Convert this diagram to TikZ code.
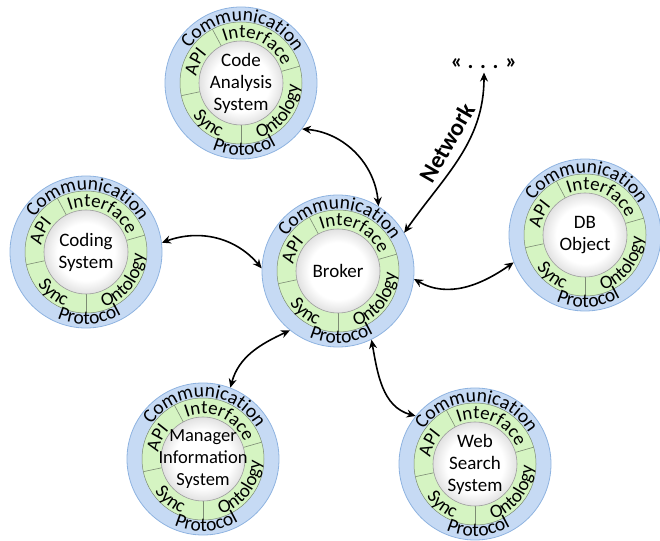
\documentclass[tikz,border=0pt]{standalone}
\usepackage{fontspec}
\setmainfont{Carlito}
\usepackage{tikz}
\usetikzlibrary{arrows.meta,decorations.text}
\definecolor{ringblue}{HTML}{C6DAF4}
\definecolor{ringedge}{HTML}{8EB3E0}
\definecolor{ringgreen}{HTML}{D5F4C2}
\definecolor{greenedge}{HTML}{7D8C74}
\definecolor{coreedge}{HTML}{9C9C9C}
\pgfdeclareradialshading{coreshade}{\pgfpoint{0bp}{0bp}}{color(0bp)=(white); color(17bp)=(white); color(35bp)=(black!26); color(50bp)=(black!26)}
\newcommand{\outerfont}{\fontsize{19.5}{24}\selectfont}
\newcommand{\innerfont}{\fontsize{19}{22}\selectfont}
% text on an arc round a node: node, radius, start, end, text
\newcommand{\ringtext}[5]{%
  \path[decorate,decoration={text along path,text align=center,text={#5}}]
    ([shift={(#3:#2)}]#1.center) arc[start angle=#3,end angle=#4,radius=#2];}
% one agent with its rings
\newcommand{\agent}[4][]{%
  \node[agent] (#2) at (#3) {};
  \draw[greenring] (#2.center) circle[radius=61pt];
  \foreach \a in {16,118,192,270}
    \draw[divider] ([shift={(\a:42pt)}]#2.center) -- ([shift={(\a:61pt)}]#2.center);
  \node[core] (#2core) at (#2.center) {};
  \node[coretext,#1] (#2name) at (#2.center) {#4};
  \ringtext{#2}{62pt}{170}{6}{|\outerfont|Communication}
  \ringtext{#2}{72pt}{218}{328}{|\outerfont|Protocol}
  \ringtext{#2}{45pt}{124}{10}{|\innerfont|Interface}
  \ringtext{#2}{45pt}{195}{115}{|\innerfont|API}
  \ringtext{#2}{58pt}{192}{270}{|\innerfont|Sync}
  \ringtext{#2}{58pt}{268}{378}{|\innerfont|Ontology}}

\begin{document}
\begin{tikzpicture}[x=1pt,y=1pt,
    agent/.style={circle,minimum size=152pt,inner sep=0pt,fill=ringblue,draw=ringedge,line width=0.8pt},
    greenring/.style={fill=ringgreen,draw=greenedge,line width=0.5pt},
    divider/.style={draw=greenedge,line width=0.6pt},
    core/.style={circle,minimum size=84pt,inner sep=0pt,draw=coreedge,line width=0.6pt,shading=coreshade},
    coretext/.style={inner sep=0pt,align=center,font=\fontsize{19}{22}\selectfont},
    link/.style={<->,>={Stealth[length=9pt,width=8pt]},line width=1.6pt},
    tag/.style={font=\fontsize{24}{28}\selectfont\bfseries}]
  \useasboundingbox (0,0) rectangle (660,540);

  \agent{code}{241,457}{Code\\Analysis\\System}
  \agent{coding}{86,288}{Coding\\System}
  \agent{broker}{338,269}{Broker}
  \agent{db}{585,305}{DB\\Object}
  \agent[font=\fontsize{18.5}{22}\selectfont]{manager}{203,81}{Manager\\Information\\System}
  \agent{web}{475,76}{Web\\Search\\System}

  \node[tag,font=\fontsize{22}{26}\selectfont\bfseries] (others) at (484,476) {« . . . »};
  \node[tag,rotate=60] (nettext) at (447,397) {Network};

  \draw[link] (code.-37) to[out=-5,in=95] (broker.58);
  \draw[link] (coding.7) to[out=20,in=130] (broker.178);
  \draw[link] (broker.-6) to[out=-30,in=215] (db.201);
  \draw[link] (broker.231) to[out=205,in=75] (manager.69);
  \draw[link] (broker.-64) to[out=-80,in=165] (web.141);
  \draw[link] (broker.30) to[out=55,in=-90] (others.south);
\end{tikzpicture}
\end{document}
